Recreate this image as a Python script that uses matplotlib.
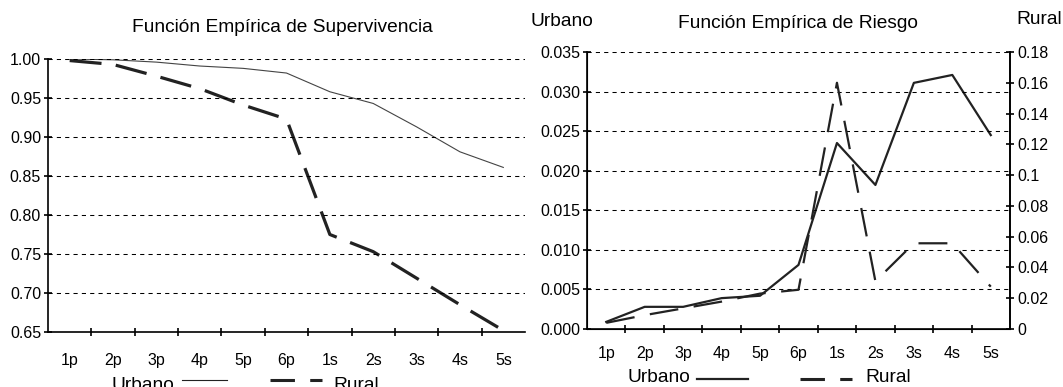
import matplotlib
matplotlib.use("Agg")
import matplotlib.pyplot as plt
from matplotlib.lines import Line2D

plt.rcParams['font.family'] = ['Liberation Sans', 'DejaVu Sans']

categories = ["1p", "2p", "3p", "4p", "5p", "6p", "1s", "2s", "3s", "4s", "5s"]

# Supervivencia
surv_urbano = [1.000, 0.999, 0.996, 0.991, 0.988, 0.982, 0.958, 0.943, 0.913, 0.881, 0.861]
surv_rural = [0.998, 0.993, 0.978, 0.962, 0.941, 0.923, 0.775, 0.753, 0.719, 0.685, 0.652]

# Riesgo
risk_urbano = [0.0009, 0.0028, 0.0028, 0.0039, 0.0042, 0.0081, 0.0235, 0.0182, 0.0311, 0.0321, 0.0245]
risk_rural = [0.004, 0.009, 0.0134, 0.0178, 0.023, 0.0255, 0.160, 0.031, 0.0557, 0.0557, 0.0275]

surv_yticks = [0.65, 0.70, 0.75, 0.80, 0.85, 0.90, 0.95, 1.00]
risk_yticks = [0.000, 0.005, 0.010, 0.015, 0.020, 0.025, 0.030, 0.035]
risk_y2ticks = [0, 0.02, 0.04, 0.06, 0.08, 0.10, 0.12, 0.14, 0.16, 0.18]
risk_y2labels = ["0", "0.02", "0.04", "0.06", "0.08", "0.1", "0.12", "0.14", "0.16", "0.18"]

W, H = 1063, 387
fig = plt.figure(figsize=(W / 100, H / 100), dpi=100)

def fx(px):
    return px / W

def fy(py):
    return 1 - py / H

x = list(range(len(categories)))
bounds = [i + 0.5 for i in range(len(categories) - 1)]
grid_kw = dict(color="black", lw=0.75, dashes=(4, 4))
FS = 11.5
TFS = 13.8

# ---------- Left chart ----------
ax1 = fig.add_axes([fx(48), fy(332), fx(525 - 48), fy(59) - fy(332)])
ax1.plot(x, surv_urbano, color="#444444", lw=0.8)
ax1.plot(x, surv_rural, color="#222222", lw=2.3, dashes=(10, 4.5))
ax1.set_xlim(-0.5, len(categories) - 0.5)
ax1.set_ylim(0.65, 1.00)
ax1.set_yticks(surv_yticks)
ax1.set_yticklabels([f"{v:.2f}" for v in surv_yticks], fontsize=FS)
for v in surv_yticks[1:]:
    ax1.axhline(v, **grid_kw)
ax1.set_xticks(x)
ax1.set_xticklabels(categories, fontsize=FS)
ax1.tick_params(axis="x", which="major", length=0, pad=15)
ax1.set_xticks(bounds, minor=True)
ax1.tick_params(axis="x", which="minor", length=6, direction="inout", width=1.2)
ax1.tick_params(axis="y", length=6, direction="inout", width=1.2, pad=2)
for s in ["top", "right"]:
    ax1.spines[s].set_visible(False)
for s in ["left", "bottom"]:
    ax1.spines[s].set_linewidth(1.2)
fig.text(fx(282), fy(27), "Función Empírica de Supervivencia", fontsize=TFS, ha="center", va="center")

# ---------- Right chart ----------
ax2 = fig.add_axes([fx(587), fy(329), fx(1010 - 587), fy(52) - fy(329)])
ax2.plot(x, risk_urbano, color="#222222", lw=1.6)
ax2.set_xlim(-0.5, len(categories) - 0.5)
ax2.set_ylim(0, 0.035)
ax2.set_yticks(risk_yticks)
ax2.set_yticklabels([f"{v:.3f}" for v in risk_yticks], fontsize=FS)
for v in risk_yticks[1:]:
    ax2.axhline(v, **grid_kw)
ax2.set_xticks(x)
ax2.set_xticklabels(categories, fontsize=FS)
ax2.tick_params(axis="x", which="major", length=0, pad=12)
ax2.set_xticks(bounds, minor=True)
ax2.tick_params(axis="x", which="minor", length=6, direction="inout", width=1.2)
ax2.tick_params(axis="y", length=6, direction="inout", width=1.2, pad=2)
ax2.spines["top"].set_visible(False)
for s in ["left", "bottom", "right"]:
    ax2.spines[s].set_linewidth(1.2)

ax3 = ax2.twinx()
ax3.plot(x, risk_rural, color="#222222", lw=1.6, dashes=(13, 7))
ax3.set_ylim(0, 0.18)
ax3.set_yticks(risk_y2ticks)
ax3.set_yticklabels(risk_y2labels, fontsize=FS)
ax3.tick_params(axis="y", length=6, direction="inout", width=1.2, pad=2)
ax3.spines["top"].set_visible(False)
ax3.spines["right"].set_linewidth(1.2)

fig.text(fx(798), fy(24), "Función Empírica de Riesgo", fontsize=TFS, ha="center", va="center")
fig.text(fx(530), fy(22), "Urbano", fontsize=TFS, ha="left", va="center")
fig.text(fx(1062), fy(20), "Rural", fontsize=TFS, ha="right", va="center")

# ---------- Legends ----------
def legend(tx_u, lw_u, l1, r1, l2, r2, tx_r, y, ly):
    fig.text(fx(tx_u), fy(y), "Urbano", fontsize=TFS, ha="right", va="center")
    fig.add_artist(Line2D([fx(l1), fx(r1)], [fy(ly), fy(ly)], color="#222222", lw=lw_u,
                          transform=fig.transFigure))
    fig.add_artist(Line2D([fx(l2), fx(r2)], [fy(ly), fy(ly)], color="#222222", lw=2.2,
                          dashes=(8, 5), transform=fig.transFigure))
    fig.text(fx(tx_r), fy(y), "Rural", fontsize=TFS, ha="left", va="center")

legend(174, 0.8, 182, 227, 270, 322, 333, 385, 380)
legend(690, 1.6, 697, 748, 800, 852, 865, 377, 379)

fig.savefig("out.png", dpi=100)
